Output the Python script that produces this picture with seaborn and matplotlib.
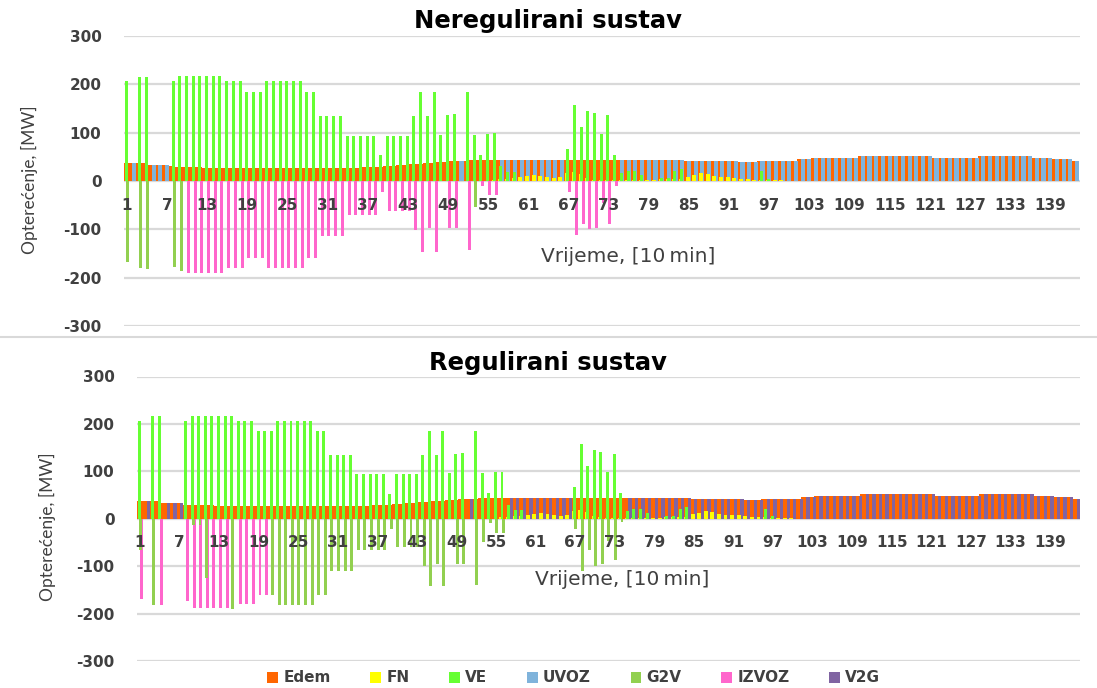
import numpy as np
import pandas as pd
import matplotlib
matplotlib.use("Agg")
import matplotlib.pyplot as plt
from matplotlib.patches import Patch
from matplotlib.lines import Line2D
from matplotlib.ticker import FixedLocator
from matplotlib.colors import to_rgba
import seaborn as sns

# 10-minute intervals of the day
intervals = list(range(1, 144))

series = ["Edem", "FN", "VE", "UVOZ", "G2V", "IZVOZ", "V2G"]
series_colors = ["#FF6600", "#FFFF00", "#66FF33", "#7FB3DB", "#92D050", "#FF66CC", "#8064A2"]

# Demand (MW)
edem = ([37] * 4 + [33] * 3 + [30] + [28.5] * 4 + [27] * 24 + [29] * 3 + [32] * 2 + [34] * 2
        + [36] * 2 + [38] * 2 + [40] * 2 + [41] * 3 + [43] * 3 + [44] * 29 + [42] * 8 + [40] * 3
        + [42] * 6 + [45] * 2 + [48] * 7 + [51.5] * 11 + [48] * 7 + [51.5] * 8 + [48] * 3
        + [45] * 3 + [42])

# Solar (MW)
fn = ([0] * 55
      + [3, 4, 5, 6, 8]
      + [11, 13, 11, 8, 6, 8, 16, 19, 15, 6]
      + [3, 2, 2, 2, 2, 2, 2, 2, 2, 2]
      + [4, 4, 4, 4, 9, 13, 16, 14, 11, 8]
      + [8, 7, 5, 4, 3, 3, 2, 2, 2, 1]
      + [0] * 43)

# Wind (MW)
ve = ([207, 0, 216, 216, 0, 0, 0, 206, 217, 217,
       217, 217, 217, 217, 217, 206, 206, 206, 185, 185,
       185, 206, 206, 206, 206, 206, 206, 185, 185, 135,
       135, 135, 135, 94, 94, 94, 94, 94, 53, 94,
       94, 94, 94, 135, 185, 135, 185, 96, 137, 138,
       0, 185, 96, 54, 98, 99, 30, 19, 19, 0,
       0, 0, 0, 0, 0, 0, 67, 157, 112, 144,
       141, 98, 137, 54, 17, 20, 20, 12, 0, 0,
       6, 6, 20, 25, 0, 0, 0, 0, 0, 0,
       0, 0, 0, 0, 0, 20, 5, 0, 0, 0]
      + [0] * 43)

# Import (unregulated) / V2G supply (regulated), MW
supply_balance = ([0, 37, 0, 0, 33, 33, 33] + [0] * 43 + [41] + [0] * 5 + [44] * 10 + [0] * 8
                  + [44] * 10 + [42] * 8 + [40] * 3 + [42] * 6 + [45] * 2 + [48] * 7
                  + [51.5] * 11 + [48] * 7 + [51.5] * 8 + [48] * 3 + [45] * 3 + [42])
uvoz_unreg = supply_balance
v2g_reg = supply_balance

# Export, unregulated system (MW)
izvoz_unreg = ([0] * 9 + [-190] * 6 + [-180] * 3 + [-159] * 3 + [-180] * 6 + [-159] * 2
               + [-113] * 4 + [-70] * 5 + [-22] + [-63] * 4
               + [-102, -146, -97, -146, 0, -97, -97, 0, -143, 0, -11, -28, -28]
               + [0] * 10
               + [-22, -112, -88, -100, -97, -46, -90, -11]
               + [0] * 69)

# Vehicle charging, unregulated system (MW)
g2v_unreg = ([-168, 0, -180, -183, 0, 0, 0, -177, -186] + [0] * 43 + [-53] + [0] * 90)

# Export, regulated system (MW)
izvoz_reg = ([-170, 0, 0, -181, 0, 0, 0, -174] + [-188] * 6 + [0] + [-179] * 3 + [-160] * 2
             + [0] * 123)

# Vehicle charging, regulated system (MW)
g2v_reg = ([-65, 0, -181, 0, 0, 0, 0, 0, -13, -13, -125, 0, 0, 0, -190, 0, 0, 0, 0, 0]
           + [-160] + [-181] * 6 + [-160] * 2 + [-111] * 4 + [-65] * 5 + [-22] + [-60] * 4
           + [-100, -142, -95, -142, 0, -95, -95, 0, -139, -50, -9, -30, -30]
           + [0] * 10
           + [-22, -111, -65, -99, -95, -46, -88, -6]
           + [0] * 69)

zeros = [0] * len(intervals)

unregulated = {"Edem": edem, "FN": fn, "VE": ve, "UVOZ": uvoz_unreg,
               "G2V": g2v_unreg, "IZVOZ": izvoz_unreg, "V2G": zeros}
regulated = {"Edem": edem, "FN": fn, "VE": ve, "UVOZ": zeros,
             "G2V": g2v_reg, "IZVOZ": izvoz_reg, "V2G": v2g_reg}

y_ticks = [-300, -200, -100, 0, 100, 200, 300]
x_label_step = 6

# bar width (in category units) and stacking layer of each series
bar_width = {"Edem": 1.0, "FN": 0.6, "VE": 0.45, "UVOZ": 0.62,
             "G2V": 0.45, "IZVOZ": 0.45, "V2G": 0.5}
layer = {"Edem": 1.0, "UVOZ": 1.1, "V2G": 1.1, "FN": 1.2,
         "VE": 1.3, "IZVOZ": 1.4, "G2V": 1.5}

TEXT = "#404040"
GRID = "#D9D9D9"
WIDE = ["DejaVu Sans"]
NARROW = ["Lato", "DejaVu Sans"]

sns.set_theme(style="white")
plt.rcParams["font.family"] = WIDE

W, H = 1097, 688
fig = plt.figure(figsize=(W / 100, H / 100), dpi=100)


def fig_rect(x0, y0, x1, y1):
    return [x0 / W, 1 - y1 / H, (x1 - x0) / W, (y1 - y0) / H]


ax_top = fig.add_axes(fig_rect(123.6, 36, 1080.3, 326))
ax_bot = fig.add_axes(fig_rect(136.7, 376.5, 1079.6, 661))


def draw_panel(ax, values, xlabel_pos, ylabel_pos):
    frame = pd.DataFrame({
        "Vrijeme": np.tile(intervals, len(series)),
        "Serija": np.repeat(series, len(intervals)),
        "MW": np.concatenate([np.asarray(values[s], dtype=float) for s in series]),
    })
    sns.barplot(data=frame, x="Vrijeme", y="MW", hue="Serija", hue_order=series,
                order=intervals, palette=series_colors, width=0.7, dodge=True,
                errorbar=None, saturation=1, legend=False, linewidth=0, ax=ax)

    # widen the thin dodged bars around their own centres
    rgba = {s: to_rgba(c) for s, c in zip(series, series_colors)}
    for cont in ax.containers:
        fc = tuple(cont.patches[0].get_facecolor())
        name = min(series, key=lambda s: sum(abs(a - b) for a, b in zip(rgba[s], fc)))
        for p in cont.patches:
            cx = p.get_x() + p.get_width() / 2
            p.set_width(bar_width[name])
            p.set_x(cx - bar_width[name] / 2)
            p.set_zorder(layer[name])

    ax.set_ylim(-300, 300)
    ax.set_xlim(-0.5, len(intervals) - 0.5)
    ax.set_yticks(y_ticks)
    ax.set_yticklabels([str(v) for v in y_ticks])
    ax.grid(False)
    for v in y_ticks:
        ax.axhline(v, color=GRID, linewidth=1.6, zorder=0.5)
    ax.set_axisbelow(False)
    for sp in ax.spines.values():
        sp.set_visible(False)
    ax.spines["bottom"].set_position(("data", 0))

    pos = list(range(0, len(intervals), x_label_step))
    ax.set_xticks(pos)
    ax.set_xticklabels([str(intervals[i]) for i in pos])
    ax.xaxis.set_minor_locator(FixedLocator(np.arange(-0.5, len(intervals), 1.0)))
    ax.tick_params(axis="x", which="major", length=0, pad=12, labelsize=11,
                   labelcolor=TEXT)
    ax.tick_params(axis="x", which="minor", length=5, width=1, color=GRID, direction="out")
    ax.tick_params(axis="y", length=0, pad=16, labelsize=11, labelcolor=TEXT)
    for lab in ax.get_xticklabels() + ax.get_yticklabels():
        lab.set_fontweight("bold")

    ax.set_xlabel("Vrijeme, [10\u2009min]", fontsize=14.5, color=TEXT, va="center")
    ax.xaxis.set_label_coords(*xlabel_pos)
    ax.set_ylabel("Opterećenje, [MW]", fontsize=12.5, color=TEXT, va="center",
                  family=NARROW)
    ax.yaxis.set_label_coords(*ylabel_pos)


draw_panel(ax_top, unregulated, (0.527, 0.238), (-0.098, 0.503))
draw_panel(ax_bot, regulated, (0.515, 0.285), (-0.095, 0.471))

fig.text(0.4995, 1 - 21 / H, "Neregulirani sustav", ha="center", va="center",
         fontsize=17.5, fontweight="bold", color="black")
fig.text(0.4995, 1 - 363 / H, "Regulirani sustav", ha="center", va="center",
         fontsize=17.5, fontweight="bold", color="black")

fig.add_artist(Line2D([0, 1], [1 - 337 / H] * 2, color=GRID, lw=1.5,
                      transform=fig.transFigure))

handles = [Patch(facecolor=c, edgecolor="none") for c in series_colors]
leg = fig.legend(handles, series, loc="center", bbox_to_anchor=(0.523, 1 - 678 / H),
                 ncol=7, frameon=False, handlelength=0.7, handleheight=0.7,
                 handletextpad=0.35, columnspacing=2.6,
                 prop={"weight": "bold", "size": 11})
for t in leg.get_texts():
    t.set_color(TEXT)

fig.savefig("out.png", dpi=100)
